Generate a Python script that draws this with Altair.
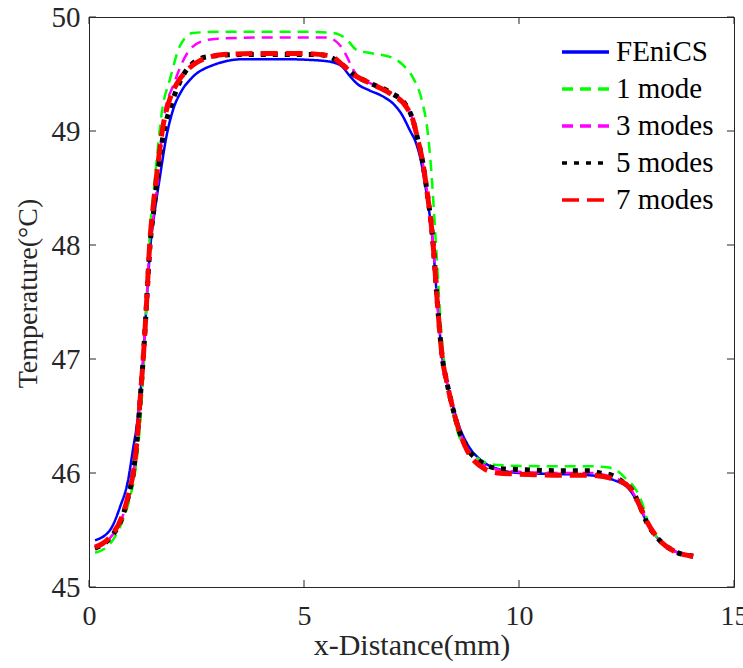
import altair as alt
import pandas as pd

series_names = ["FEniCS", "1 mode", "3 modes", "5 modes", "7 modes"]
series_colors = ["#0000FF", "#00FF00", "#FF00FF", "#000000", "#FF0000"]
series_dashes = [[1, 0], [11, 7], [11, 7], [5, 7], [17, 8]]
series_widths = [2.5, 2.5, 2.5, 5, 5]

fenics_x = [0.14, 0.49, 0.72, 0.91, 1.02, 1.14, 1.26, 1.34, 1.43, 1.53, 1.65, 1.8, 1.95, 2.15, 2.35, 2.9, 3.6, 4.5, 5.3, 5.7, 5.9, 6.05, 6.25, 6.5, 6.85, 7.1, 7.25, 7.47, 7.6, 7.7, 7.85, 8.0, 8.1, 8.22, 8.32, 8.44, 8.6, 8.79, 9.16, 9.56, 10.0, 11.0, 11.65, 12.19, 12.58, 12.81, 12.98, 13.2, 13.58, 14.05]
fenics_y = [45.41, 45.5, 45.7, 45.94, 46.2, 46.5, 47.0, 47.5, 48.0, 48.3, 48.6, 48.95, 49.18, 49.35, 49.45, 49.58, 49.63, 49.63, 49.62, 49.6, 49.56, 49.49, 49.41, 49.36, 49.3, 49.23, 49.16, 49.0, 48.9, 48.77, 48.45, 48.0, 47.5, 47.0, 46.8, 46.62, 46.42, 46.26, 46.1, 46.03, 46.0, 45.99, 45.98, 45.94, 45.85, 45.7, 45.56, 45.44, 45.32, 45.28]

mode1_x = [0.14, 0.49, 0.79, 0.95, 1.07, 1.16, 1.22, 1.28, 1.34, 1.4, 1.53, 1.7, 1.88, 2.12, 2.42, 3.0, 4.0, 5.0, 5.67, 5.85, 6.0, 6.23, 6.6, 7.07, 7.3, 7.53, 7.74, 7.88, 7.95, 8.07, 8.2, 8.3, 8.45, 8.58, 8.9, 9.48, 10.5, 11.5, 12.05, 12.35, 12.51, 12.65, 12.86, 13.0, 13.2, 13.58, 14.05]
mode1_y = [45.3, 45.38, 45.59, 45.78, 46.0, 46.3, 46.6, 47.0, 47.5, 48.0, 48.57, 49.18, 49.45, 49.75, 49.86, 49.87, 49.87, 49.87, 49.86, 49.84, 49.8, 49.71, 49.68, 49.64, 49.58, 49.47, 49.27, 48.98, 48.7, 48.0, 47.2, 46.85, 46.55, 46.35, 46.17, 46.07, 46.06, 46.06, 46.05, 46.0, 45.94, 45.89, 45.74, 45.57, 45.44, 45.32, 45.27]

mode3_x = [0.14, 0.49, 0.79, 0.95, 1.03, 1.12, 1.2, 1.26, 1.34, 1.41, 1.5, 1.6, 1.68, 1.77, 1.95, 2.28, 2.58, 3.0, 4.0, 5.0, 5.53, 5.84, 6.0, 6.14, 6.3, 6.53, 7.0, 7.4, 7.53, 7.65, 7.74, 7.85, 8.0, 8.1, 8.22, 8.32, 8.44, 8.6, 8.79, 9.1, 9.5, 10.0, 11.0, 11.65, 12.19, 12.58, 12.81, 12.98, 13.2, 13.58, 14.05]
mode3_y = [45.33, 45.43, 45.63, 45.85, 46.0, 46.3, 46.7, 47.0, 47.5, 48.0, 48.25, 48.57, 48.9, 49.18, 49.39, 49.68, 49.78, 49.81, 49.82, 49.82, 49.82, 49.75, 49.65, 49.54, 49.46, 49.42, 49.34, 49.21, 49.1, 48.92, 48.77, 48.5, 48.02, 47.5, 47.0, 46.8, 46.6, 46.38, 46.22, 46.09, 46.03, 46.01, 46.0, 46.0, 45.96, 45.87, 45.71, 45.57, 45.44, 45.32, 45.27]

mode5_x = [0.14, 0.49, 0.79, 0.95, 1.03, 1.12, 1.2, 1.26, 1.34, 1.42, 1.52, 1.6, 1.72, 1.93, 2.1, 2.28, 2.74, 3.5, 4.5, 5.3, 5.6, 5.9, 6.14, 6.53, 7.0, 7.4, 7.53, 7.65, 7.74, 7.85, 8.0, 8.1, 8.22, 8.32, 8.44, 8.6, 8.79, 9.1, 9.5, 10.0, 11.0, 11.65, 11.88, 12.16, 12.42, 12.63, 12.81, 12.98, 13.2, 13.58, 14.05]
mode5_y = [45.34, 45.43, 45.63, 45.85, 46.0, 46.3, 46.7, 47.0, 47.5, 48.0, 48.35, 48.63, 48.95, 49.25, 49.42, 49.54, 49.65, 49.67, 49.67, 49.67, 49.65, 49.58, 49.5, 49.42, 49.34, 49.21, 49.1, 48.92, 48.77, 48.5, 48.02, 47.5, 47.0, 46.8, 46.6, 46.38, 46.22, 46.1, 46.04, 46.03, 46.02, 46.02, 46.0, 45.98, 45.92, 45.85, 45.71, 45.56, 45.44, 45.32, 45.27]

mode7_x = [0.14, 0.49, 0.79, 0.95, 1.03, 1.12, 1.2, 1.26, 1.34, 1.41, 1.51, 1.6, 1.72, 1.88, 2.05, 2.25, 2.5, 3.12, 4.0, 5.0, 5.6, 5.9, 6.14, 6.53, 7.0, 7.4, 7.53, 7.65, 7.74, 7.85, 8.0, 8.1, 8.22, 8.32, 8.44, 8.6, 8.79, 9.1, 9.5, 10.0, 11.0, 11.65, 12.19, 12.58, 12.81, 12.98, 13.2, 13.58, 14.05]
mode7_y = [45.35, 45.44, 45.64, 45.86, 46.0, 46.3, 46.7, 47.0, 47.5, 48.0, 48.4, 48.7, 49.04, 49.28, 49.42, 49.52, 49.6, 49.67, 49.68, 49.68, 49.66, 49.58, 49.5, 49.42, 49.33, 49.2, 49.1, 48.92, 48.77, 48.5, 48.02, 47.5, 47.0, 46.8, 46.6, 46.38, 46.2, 46.06, 46.0, 45.99, 45.98, 45.98, 45.95, 45.87, 45.71, 45.57, 45.44, 45.32, 45.27]

x_ticks = [0, 5, 10, 15]
y_ticks = [45, 46, 47, 48, 49, 50]

all_series = [
    ("FEniCS", fenics_x, fenics_y),
    ("1 mode", mode1_x, mode1_y),
    ("3 modes", mode3_x, mode3_y),
    ("5 modes", mode5_x, mode5_y),
    ("7 modes", mode7_x, mode7_y),
]
rows = []
for name, xs, ys in all_series:
    for i, (xv, yv) in enumerate(zip(xs, ys)):
        rows.append({"series": name, "x": xv, "y": yv, "i": i})
df = pd.DataFrame(rows)

W, H = 645, 570
FONT = "Liberation Serif"
AX = "#262626"

x_scale = alt.Scale(domain=[0, 15], nice=False, zero=False)
y_scale = alt.Scale(domain=[45, 50], nice=False, zero=False)

x_axis = alt.Axis(values=x_ticks, ticks=False, tickSize=0, domain=False, grid=False,
                  labelFont=FONT, labelFontSize=28, labelColor=AX, labelPadding=15,
                  labelFlush=False, title="x-Distance(mm)", titleFont=FONT,
                  titleFontSize=30, titleFontWeight="normal", titleColor=AX,
                  titleY=67, titleBaseline="alphabetic")
y_axis = alt.Axis(values=y_ticks, ticks=False, tickSize=0, domain=False, grid=False,
                  labelFont=FONT, labelFontSize=29, labelColor=AX, labelPadding=9,
                  labelFlush=False, title="Temperature(°C)", titleFont=FONT,
                  titleFontSize=28, titleFontWeight="normal", titleColor=AX,
                  titleX=-61, titleY=276, titleAngle=270, titleBaseline="middle",
                  titleAlign="center")

legend = alt.Legend(
    title=None, orient="none", legendX=471, legendY=20,
    symbolType="stroke", symbolSize=2209, clipHeight=30, symbolStrokeWidth=3.5,
    rowPadding=7, labelFont=FONT, labelFontSize=29,
    labelColor="#000000", labelOffset=5, padding=0,
)

color_scale = alt.Scale(domain=series_names, range=series_colors)
dash_scale = alt.Scale(domain=series_names, range=series_dashes)

line_layers = []
for name, w in zip(series_names, series_widths):
    line_layers.append(
        alt.Chart(df).transform_filter(alt.datum.series == name)
        .mark_line(interpolate="monotone", strokeWidth=w)
        .encode(
            x=alt.X("x:Q", scale=x_scale, axis=x_axis),
            y=alt.Y("y:Q", scale=y_scale, axis=y_axis),
            color=alt.Color("series:N", scale=color_scale, sort=series_names, legend=legend),
            strokeDash=alt.StrokeDash("series:N", scale=dash_scale, sort=series_names, legend=legend),
            order="i:Q",
        )
    )

xt = pd.DataFrame({"x": x_ticks})
yt = pd.DataFrame({"y": y_ticks})
tick_style = dict(color=AX, strokeWidth=1)
tick_layers = [
    alt.Chart(xt).mark_rule(**tick_style).encode(
        x=alt.X("x:Q", scale=x_scale, axis=x_axis), y=alt.value(H), y2=alt.value(H - 7)),
    alt.Chart(xt).mark_rule(**tick_style).encode(
        x=alt.X("x:Q", scale=x_scale, axis=x_axis), y=alt.value(0), y2=alt.value(7)),
    alt.Chart(yt).mark_rule(**tick_style).encode(
        y=alt.Y("y:Q", scale=y_scale, axis=y_axis), x=alt.value(0), x2=alt.value(7)),
    alt.Chart(yt).mark_rule(**tick_style).encode(
        y=alt.Y("y:Q", scale=y_scale, axis=y_axis), x=alt.value(W), x2=alt.value(W - 7)),
]

chart = alt.layer(*line_layers, *tick_layers).properties(
    width=W, height=H,
    padding={"left": 89, "top": 17, "right": 9, "bottom": 81},
    autosize=alt.AutoSizeParams(type="none"),
    background="white",
).configure_view(stroke=AX, strokeWidth=1)

chart.save("out.html", embed_options={"renderer": "svg", "actions": False})
